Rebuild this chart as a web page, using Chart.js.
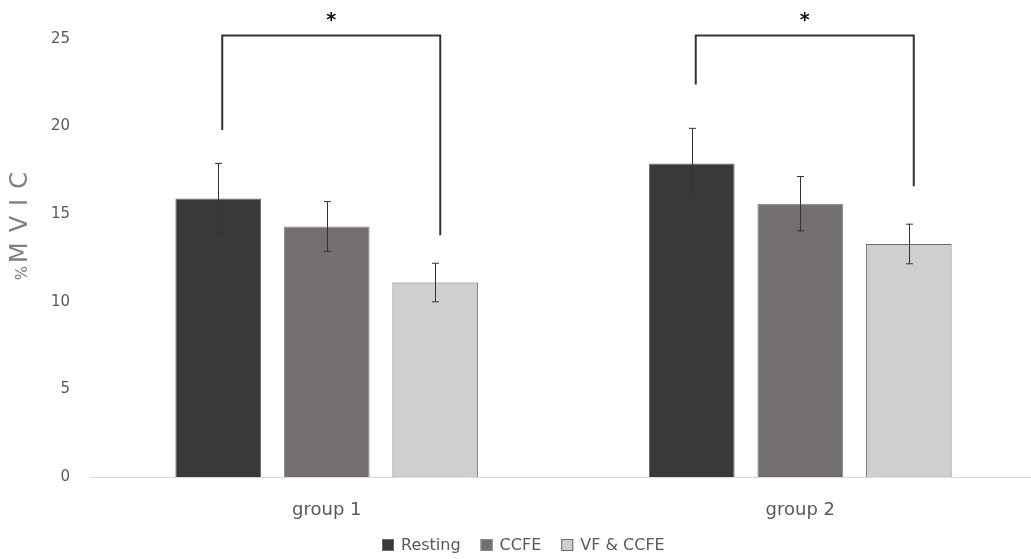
<!DOCTYPE html>
<html>
<head>
<meta charset="utf-8">
<script src="https://cdn.jsdelivr.net/npm/chart.js@4.4.1/dist/chart.umd.min.js"></script>
<style>
body{ margin:0; background:#fff; overflow:hidden; }
#wrap{ position:absolute; left:0; top:0; width:1045px; height:559px; }
</style>
</head>
<body>
<div id="wrap"><canvas id="c"></canvas></div>
<script>
// data
var groups   = ['group 1', 'group 2'];
var resting  = [15.9, 17.9];
var ccfe     = [14.3, 15.6];
var vfCcfe   = [11.1, 13.3];
var restingErr = [2.0, 2.0];
var ccfeErr    = [1.42, 1.55];
var vfCcfeErr  = [1.1, 1.13];
var yTicks = [0, 5, 10, 15, 20, 25];
// significance brackets (Resting vs VF & CCFE), in %MVIC units
var bracketLeftEnd  = [19.8, 22.4];
var bracketRightEnd = [13.8, 16.6];
var bracketTop  = 25.2;
var starLevel   = 26.2;

var txt='#595959';
var fam='"DejaVu Sans", sans-serif';
Chart.defaults.font.family=fam;

var errors=[restingErr, ccfeErr, vfCcfeErr];

var errorBars={
    id:'errorBars',
    afterDatasetsDraw:function(chart){
        var ctx=chart.ctx, y=chart.scales.y;
        ctx.save();
        ctx.strokeStyle='#333';
        ctx.lineWidth=1;
        chart.data.datasets.forEach(function(ds,di){
            chart.getDatasetMeta(di).data.forEach(function(bar,i){
                var v=ds.data[i], e=errors[di][i];
                var x=Math.round(bar.x)+0.5;
                var t=y.getPixelForValue(v+e), b=y.getPixelForValue(v-e);
                ctx.beginPath();
                ctx.moveTo(x,t); ctx.lineTo(x,b);
                ctx.moveTo(x-3.5,t); ctx.lineTo(x+3.5,t);
                ctx.moveTo(x-3.5,b); ctx.lineTo(x+3.5,b);
                ctx.stroke();
            });
        });
        ctx.restore();
    }
};

var brackets={
    id:'brackets',
    afterDraw:function(chart){
        var ctx=chart.ctx, y=chart.scales.y;
        var m0=chart.getDatasetMeta(0).data, m2=chart.getDatasetMeta(2).data;
        ctx.save();
        ctx.strokeStyle='#333';
        ctx.lineWidth=2;
        for(var i=0;i<groups.length;i++){
            var xl=m0[i].x+4, xr=m2[i].x+5;
            var top=y.getPixelForValue(bracketTop);
            ctx.beginPath();
            ctx.moveTo(xl,y.getPixelForValue(bracketLeftEnd[i]));
            ctx.lineTo(xl,top);
            ctx.lineTo(xr,top);
            ctx.lineTo(xr,y.getPixelForValue(bracketRightEnd[i]));
            ctx.stroke();
            ctx.fillStyle='#111';
            ctx.font='bold 19px '+fam;
            ctx.textAlign='center';
            ctx.textBaseline='middle';
            ctx.fillText('*',(xl+xr)/2,y.getPixelForValue(starLevel)+3);
        }
        ctx.restore();
    }
};

// y axis title, spaced out like the original
var yTitle={
    id:'yTitle',
    afterDraw:function(chart){
        var ctx=chart.ctx, y=chart.scales.y;
        ctx.save();
        ctx.translate(21, y.getPixelForValue(14.6));
        ctx.rotate(-Math.PI/2);
        ctx.fillStyle='#808080';
        ctx.textBaseline='middle';
        ctx.textAlign='left';
        ctx.font='15px '+fam;
        var wp=ctx.measureText('%').width;
        ctx.font='24px '+fam;
        ctx.letterSpacing='10px';
        var wm=ctx.measureText('MVIC').width;
        var x0=-(wp+3+wm)/2;
        ctx.fillText('MVIC', x0+wp+3, 0);
        ctx.letterSpacing='0px';
        ctx.font='15px '+fam;
        ctx.fillText('%', x0, 2);
        ctx.restore();
    }
};

// legend under the axis, drawn from the datasets
var bottomLegend={
    id:'bottomLegend',
    afterDraw:function(chart){
        var ctx=chart.ctx, ds=chart.data.datasets;
        var box=12, gap=7, pad=20;
        ctx.save();
        ctx.font='16px '+fam;
        var total=0;
        ds.forEach(function(d,i){ total+=box+gap+ctx.measureText(d.label).width+(i?pad:0); });
        var x=Math.round(chart.width/2-total/2)+1, yc=chart.chartArea.bottom+68;
        ctx.textBaseline='middle';
        ctx.textAlign='left';
        ds.forEach(function(d){
            ctx.fillStyle=d.backgroundColor;
            ctx.fillRect(x,yc-6,box,box);
            ctx.strokeStyle=d.borderColor;
            ctx.lineWidth=1;
            ctx.strokeRect(x+0.5,yc-5.5,box-1,box-1);
            ctx.fillStyle=txt;
            ctx.fillText(d.label,x+box+gap,yc+1);
            x+=box+gap+ctx.measureText(d.label).width+pad;
        });
        ctx.restore();
    }
};

new Chart(document.getElementById('c'),{
    type:'bar',
    data:{
        labels:groups,
        datasets:[
            { label:'Resting',   data:resting, backgroundColor:'#3b3937', borderColor:'#6b6a69', borderWidth:1 },
            { label:'CCFE',      data:ccfe,    backgroundColor:'#736f6e', borderColor:'#8a8786', borderWidth:1 },
            { label:'VF & CCFE', data:vfCcfe,  backgroundColor:'#d0cecf', borderColor:'#6b6a6a', borderWidth:1 }
        ]
    },
    options:{
        responsive:true,
        maintainAspectRatio:false,
        animation:false,
        categoryPercentage:0.6875,
        barPercentage:0.79,
        layout:{ padding:{ top:39, left:8, right:8, bottom:32 } },
        plugins:{
            tooltip:{ enabled:false },
            legend:{ display:false }
        },
        scales:{
            x:{
                grid:{ display:false },
                border:{ display:true, color:'#d9d9d9', width:1 },
                ticks:{ color:txt, font:{ size:18 }, padding:15 },
                afterFit:function(s){ s.height=50; }
            },
            y:{
                min:0, max:25,
                afterBuildTicks:function(s){ s.ticks=yTicks.map(function(v){ return { value:v }; }); },
                afterFit:function(s){ s.width=82; },
                grid:{ display:false, drawTicks:false },
                border:{ display:false },
                ticks:{ color:txt, font:{ size:15 }, padding:20 }
            }
        }
    },
    plugins:[errorBars, brackets, yTitle, bottomLegend]
});
</script>
</body>
</html>
